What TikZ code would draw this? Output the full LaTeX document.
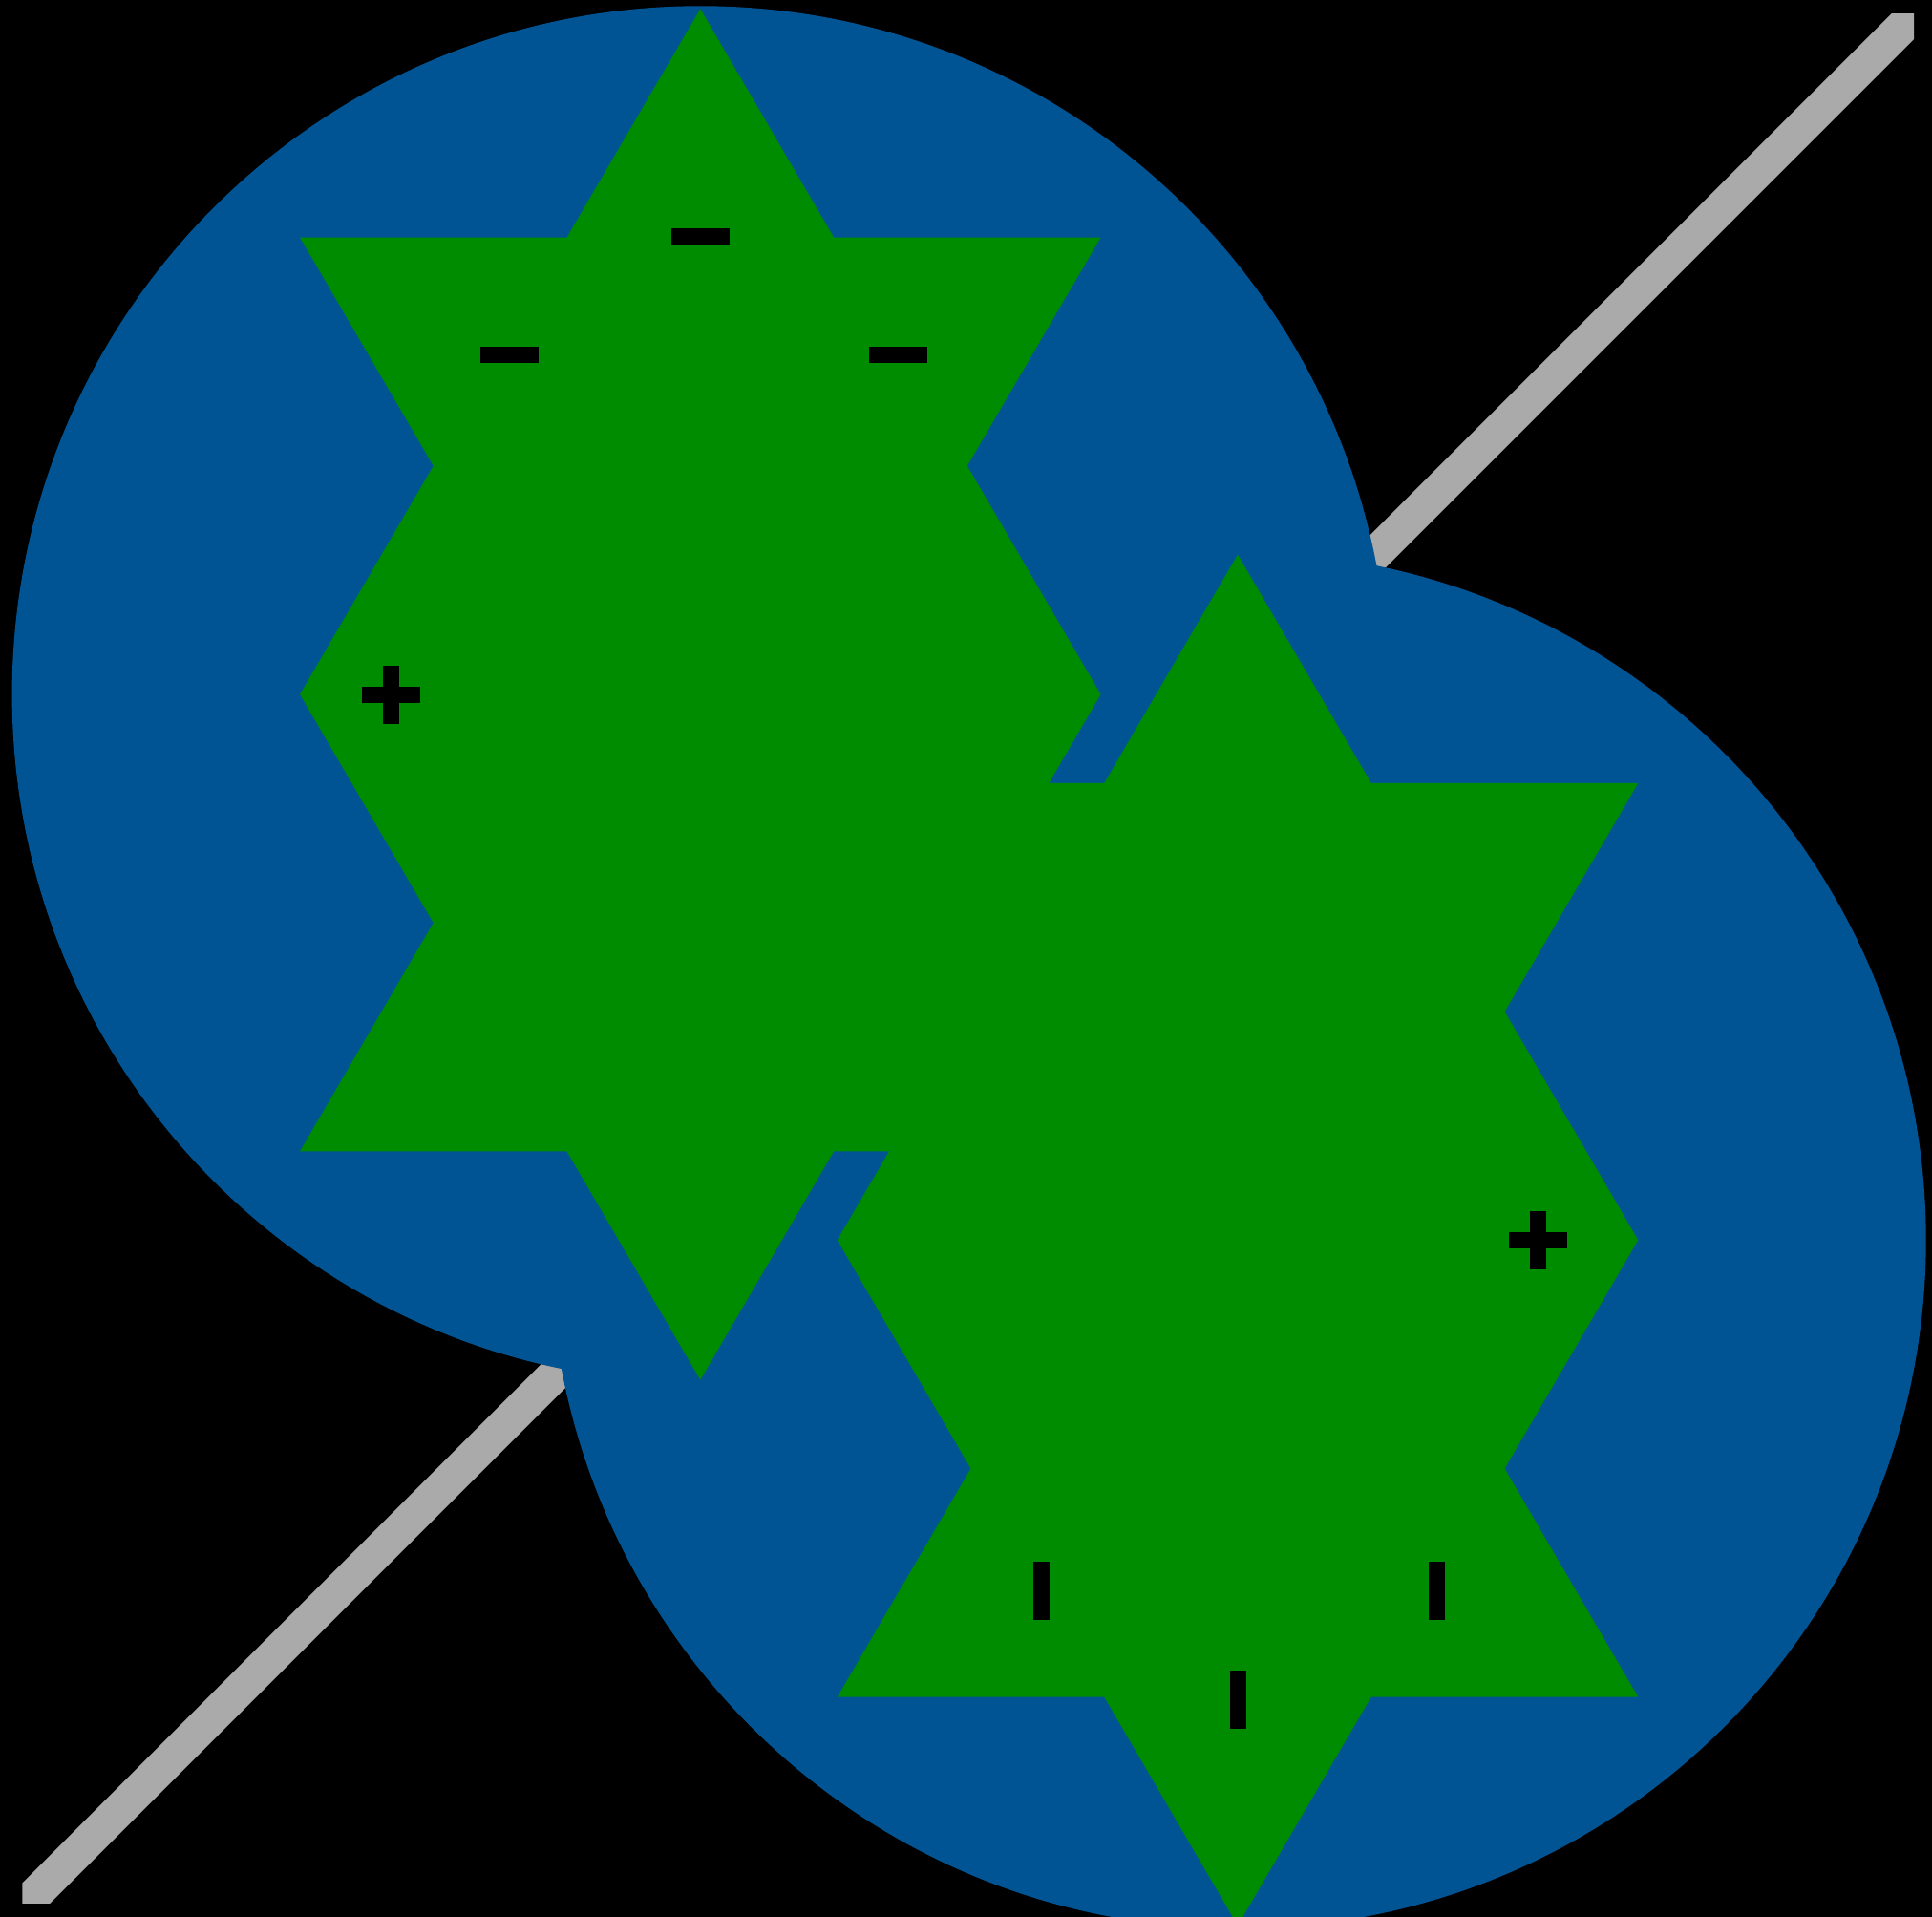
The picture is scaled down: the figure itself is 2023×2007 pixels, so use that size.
\documentclass[tikz,border=0pt]{standalone}
\definecolor{discBlue}{RGB}{0,84,147}
\definecolor{starGreen}{RGB}{0,140,0}
\definecolor{axisGray}{RGB}{170,170,170}

\begin{document}
\begin{tikzpicture}[
  x=0.01cm, y=-0.01cm,
  disc/.style={fill=discBlue},
  star/.style={fill=starGreen},
  axis/.style={draw=axisGray, line width=3.54mm},
  sign/.style={fill=black}
]
\useasboundingbox (0,0) rectangle (2023,2007);
\fill[black] (0,0) rectangle (2023,2007);

% The axis, behind the discs.
\begin{scope}
  \clip (23.3,15) rectangle (2004,1992.7);
  \draw[axis] (0,2020) -- (2020,0);
\end{scope}

% Discs and stars.
\foreach \cx/\cy in {733.3/727, 1296/1298.3}
  \fill[disc] (\cx,\cy) circle[radius=720.7];
\foreach \cx/\cy in {733.3/727, 1296/1298.3}
  \fill[star, shift={(\cx,\cy)}]
    (0,-717.6) -- (139.75,-478.4) -- (419.25,-478.4) -- (279.5,-239.2)
    -- (419.25,0) -- (279.5,239.2) -- (419.25,478.4) -- (139.75,478.4)
    -- (0,717.6) -- (-139.75,478.4) -- (-419.25,478.4) -- (-279.5,239.2)
    -- (-419.25,0) -- (-279.5,-239.2) -- (-419.25,-478.4) -- (-139.75,-478.4)
    -- cycle;

% Minus signs on the upper star.
\foreach \px/\py in {733.3/247.3, 533.5/371.5, 940/371.5}
  \fill[sign] (\px-30.5,\py-8.5) rectangle (\px+30.5,\py+8.5);

% Plus signs.
\foreach \px/\py in {409.8/727.5, 1610/1298.3} {
  \fill[sign] (\px-30.5,\py-8.5) rectangle (\px+30.5,\py+8.5);
  \fill[sign] (\px-8.5,\py-30.5) rectangle (\px+8.5,\py+30.5);
}

% Bars on the lower star.
\foreach \px/\py in {1090/1665.5, 1504/1665.5, 1296/1779.5}
  \fill[sign] (\px-8.5,\py-30.5) rectangle (\px+8.5,\py+30.5);

\end{tikzpicture}
\end{document}
